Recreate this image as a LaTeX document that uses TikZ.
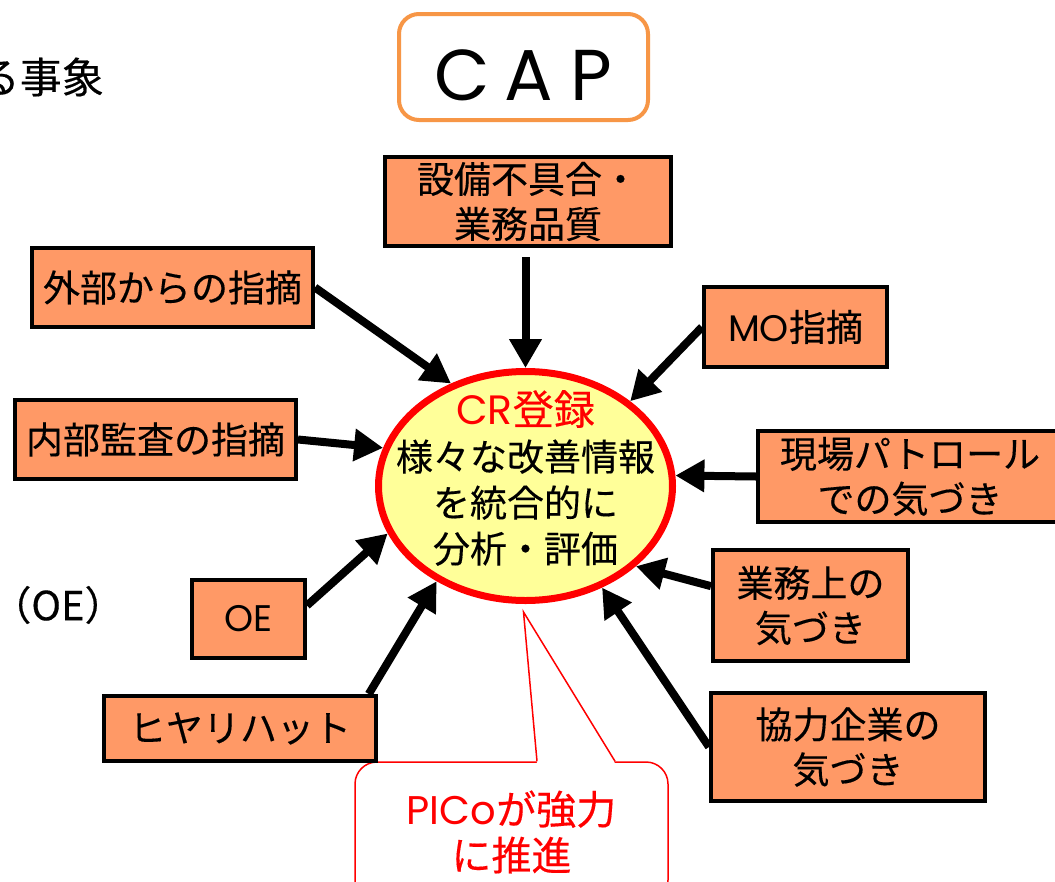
\documentclass[tikz,border=0pt]{standalone}
\usepackage{fontspec}
\setmainfont{Noto Sans CJK JP}[FakeBold=0.3]
\newfontfamily\capfont{Poppins}
\newcommand{\lat}[1]{{\capfont #1}}
\usetikzlibrary{arrows.meta,shapes.geometric,calc}
\definecolor{boxfill}{HTML}{FF9966}
\definecolor{capline}{HTML}{F79646}
\definecolor{crfill}{HTML}{FFFF99}
\definecolor{crred}{HTML}{FF0000}
\begin{document}
\begin{tikzpicture}[x=1pt,y=-1pt,
  infobox/.style={draw=black, line width=4pt, fill=boxfill, inner sep=0pt, align=center, font=\fontsize{37}{45}\selectfont},
  feed/.style={line width=8pt, -{Triangle[length=29pt,width=31pt]}},
  plain/.style={inner sep=0pt, align=center}]
\useasboundingbox (0,0) rectangle (1055,881);
\fill[white] (0,0) rectangle (1055,881);

% side texts
\node[plain, anchor=east, font=\fontsize{42}{42}\selectfont] (topleft) at (104,77) {る事象};
\node[plain, font=\fontsize{40}{40}\selectfont] (oeleft) at (58,605) {（OE）};

% CAP title
\node[draw=capline, line width=4pt, rounded corners=20pt, minimum width=249pt, minimum height=106pt, inner sep=0pt] (cap) at (523.5,67) {};
\node[plain, font=\capfont\fontsize{72}{72}\selectfont] (captext) at (523.5,75) {C\hspace{14pt}A\hspace{18pt}P};

% callout
\node[draw=crred, line width=1.5pt, rounded corners=22pt, fill=white, minimum width=313pt, minimum height=140pt, inner sep=0pt, align=center, text=crred, font=\fontsize{40}{46}\selectfont] (pico) at (511.5,832) {\lat{PICo}が強力\\に推進};

% central ellipse
\node[ellipse, draw=crred, line width=7pt, fill=crfill, minimum width=294pt, minimum height=229pt, inner sep=0pt] (cr) at (525.5,486) {};
\node[plain, font=\fontsize{37}{46}\selectfont] (crtext) at (525.5,478) {\textcolor{crred}{\fontsize{41}{46}\selectfont\lat{CR}登録}\\様々な改善情報\\を統合的に\\分析・評価};

\coordinate (pl) at ($(pico.north)+(25.5,0)$);
\coordinate (pr) at ($(pico.north)+(103.5,0)$);
\coordinate (tip) at ($(cr.south)+(-2,8)$);
\fill[white] ($(pl)+(0,2)$) -- (tip) -- ($(pr)+(0,2)$) -- cycle;
\draw[crred, line width=1.5pt, line join=miter] (pl) -- (tip) -- (pr);

% boxes
\node[infobox, minimum width=286pt, minimum height=89pt] (b1) at (528,201.5) {設備不具合・\\業務品質};
\node[infobox, minimum width=281pt, minimum height=79pt] (b2) at (172.5,287.5) {外部からの指摘};
\node[infobox, minimum width=183pt, minimum height=80pt] (b3) at (795.5,327) {\lat{MO}指摘};
\node[infobox, minimum width=281pt, minimum height=79pt] (b4) at (155.5,439.5) {内部監査の指摘};
\node[infobox, minimum width=304pt, minimum height=91pt] (b5) at (910,476.5) {現場パトロール\\での気づき};
\node[infobox, minimum width=113pt, minimum height=78pt] (b6) at (248.5,619) {\lat{OE}};
\node[infobox, minimum width=195pt, minimum height=111pt] (b7) at (810.5,605.5) {業務上の\\気づき};
\node[infobox, minimum width=272pt, minimum height=65pt] (b8) at (240,728.5) {ヒヤリハット};
\node[infobox, minimum width=274pt, minimum height=108pt] (b9) at (848,747) {協力企業の\\気づき};

% arrows
\draw[feed, shorten <=9pt] (cr.north |- b1.south) -- (cr.90);
\draw[feed] (b2.east) -- (cr.126.5);
\draw[feed] (b3.west) -- (cr.39.7);
\draw[feed] (b4.east) -- (cr.165.7);
\draw[feed] (b5.west) -- (cr.4.9);
\draw[feed] (b6.13) -- (cr.199);
\draw[feed] (b7.169) -- (cr.-36.8);
\draw[feed] (b8.15.6) -- (cr.227.6);
\draw[feed] (b9.west) -- (cr.-53.6);
\end{tikzpicture}
\end{document}
